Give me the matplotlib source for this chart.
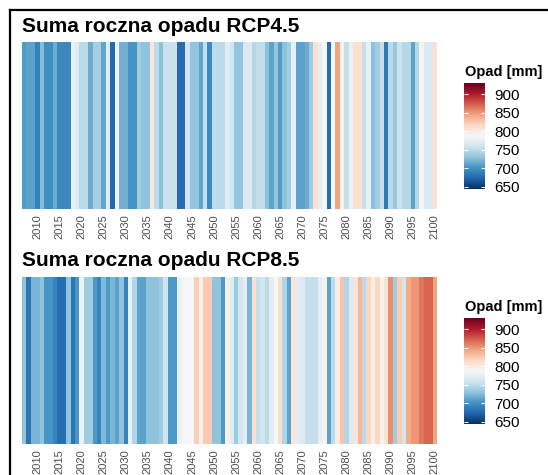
import numpy as np
import matplotlib
matplotlib.use("Agg")
import matplotlib.pyplot as plt
from matplotlib.colors import Normalize
from matplotlib.lines import Line2D

plt.rcParams['font.family'] = ['Liberation Sans', 'DejaVu Sans']

years = np.arange(2007, 2101)

# annual precipitation totals [mm]
rcp45 = [
    706, 710, 710, 690, 725, 698, 698, 716, 695, 695,
    695, 780, 770, 748, 748, 716, 738, 738, 712, 770,
    676, 782, 718, 718, 702, 702, 736, 730, 730, 803,
    750, 728, 755, 755, 755, 677, 677, 760, 731, 731,
    712, 752, 696, 748, 748, 748, 770, 758, 731, 731,
    766, 766, 746, 752, 752, 728, 711, 731, 707, 728,
    737, 775, 711, 711, 716, 736, 810, 773, 785, 677,
    786, 845, 792, 753, 778, 810, 810, 753, 775, 728,
    737, 753, 685, 748, 733, 756, 746, 746, 711, 746,
    783, 766, 766, 810,
]
rcp85 = [
    730, 683, 720, 720, 730, 703, 703, 692, 678, 678,
    730, 683, 703, 780, 736, 736, 705, 692, 724, 705,
    722, 711, 730, 692, 775, 744, 711, 711, 730, 730,
    730, 736, 758, 705, 705, 778, 785, 785, 785, 822,
    794, 824, 824, 730, 730, 705, 795, 770, 735, 760,
    772, 722, 812, 754, 760, 750, 772, 786, 812, 744,
    711, 805, 772, 769, 753, 753, 753, 773, 792, 711,
    748, 798, 828, 744, 769, 805, 835, 748, 818, 797,
    818, 790, 808, 853, 736, 823, 760, 840, 850, 850,
    863, 870, 870, 845,
]

titles = ["Suma roczna opadu RCP4.5", "Suma roczna opadu RCP8.5"]
legend_title = "Opad [mm]"
legend_ticks = [650, 700, 750, 800, 850, 900]
year_ticks = np.arange(2010, 2101, 5)

W, H = 548, 475
cmap = plt.get_cmap("RdBu_r")
norm = Normalize(vmin=644, vmax=930)


def px_axes(fig, x0, y0, x1, y1):
    # axes from pixel box (top-left origin)
    return fig.add_axes([x0 / W, 1 - y1 / H, (x1 - x0) / W, (y1 - y0) / H])


def draw_strip(fig, vals, title, top):
    ax = px_axes(fig, 22, top, 437, top + 167)
    edges = np.append(years - 0.5, years[-1] + 0.5)
    ax.pcolormesh(edges, [0, 1], np.array(vals).reshape(1, -1),
                  cmap=cmap, norm=norm)
    ax.set_xlim(edges[0], edges[-1])
    ax.set_ylim(0, 1)
    ax.set_yticks([])
    ax.set_xticks(year_ticks)
    ax.set_xticklabels([str(y) for y in year_ticks], rotation=90,
                       fontsize=8, color="#4d4d4d")
    ax.tick_params(axis="x", length=0, pad=4)
    for s in ax.spines.values():
        s.set_visible(False)
    fig.text(22 / W, 1 - (top - 16) / H, title, fontsize=15,
             fontweight="bold", va="center", ha="left")


def draw_legend(fig, top):
    fig.text(465 / W, 1 - top / H, legend_title, fontsize=10.5,
             fontweight="bold", va="center", ha="left")
    cax = px_axes(fig, 464, top + 11, 485, top + 117)
    grad = np.linspace(norm.vmin, norm.vmax, 256).reshape(-1, 1)
    cax.imshow(grad, extent=[0, 1, norm.vmin, norm.vmax], origin="lower",
               aspect="auto", cmap=cmap, norm=norm)
    cax.set_xlim(0, 1)
    cax.set_ylim(norm.vmin, norm.vmax)
    cax.set_xticks([])
    cax.yaxis.tick_right()
    cax.set_yticks(legend_ticks)
    cax.set_yticklabels([str(t) for t in legend_ticks], fontsize=11)
    cax.tick_params(axis="y", length=0, pad=7)
    for t in legend_ticks:
        cax.hlines(t, 0, 0.2, color="white", lw=0.8)
        cax.hlines(t, 0.8, 1, color="white", lw=0.8)
    for s in cax.spines.values():
        s.set_visible(False)


fig = plt.figure(figsize=(W / 100, H / 100), dpi=100)
fig.patch.set_facecolor("white")

draw_strip(fig, rcp45, titles[0], 42)
draw_strip(fig, rcp85, titles[1], 277)
draw_legend(fig, 72)
draw_legend(fig, 307)

# page frame around the figure
fig.add_artist(Line2D([10 / W, 10 / W], [0, 1 - 10 / H],
                      transform=fig.transFigure, color="black", lw=1.6))
fig.add_artist(Line2D([10 / W, 1], [1 - 10 / H, 1 - 10 / H],
                      transform=fig.transFigure, color="black", lw=1.6))

fig.savefig("out.png", dpi=100)
